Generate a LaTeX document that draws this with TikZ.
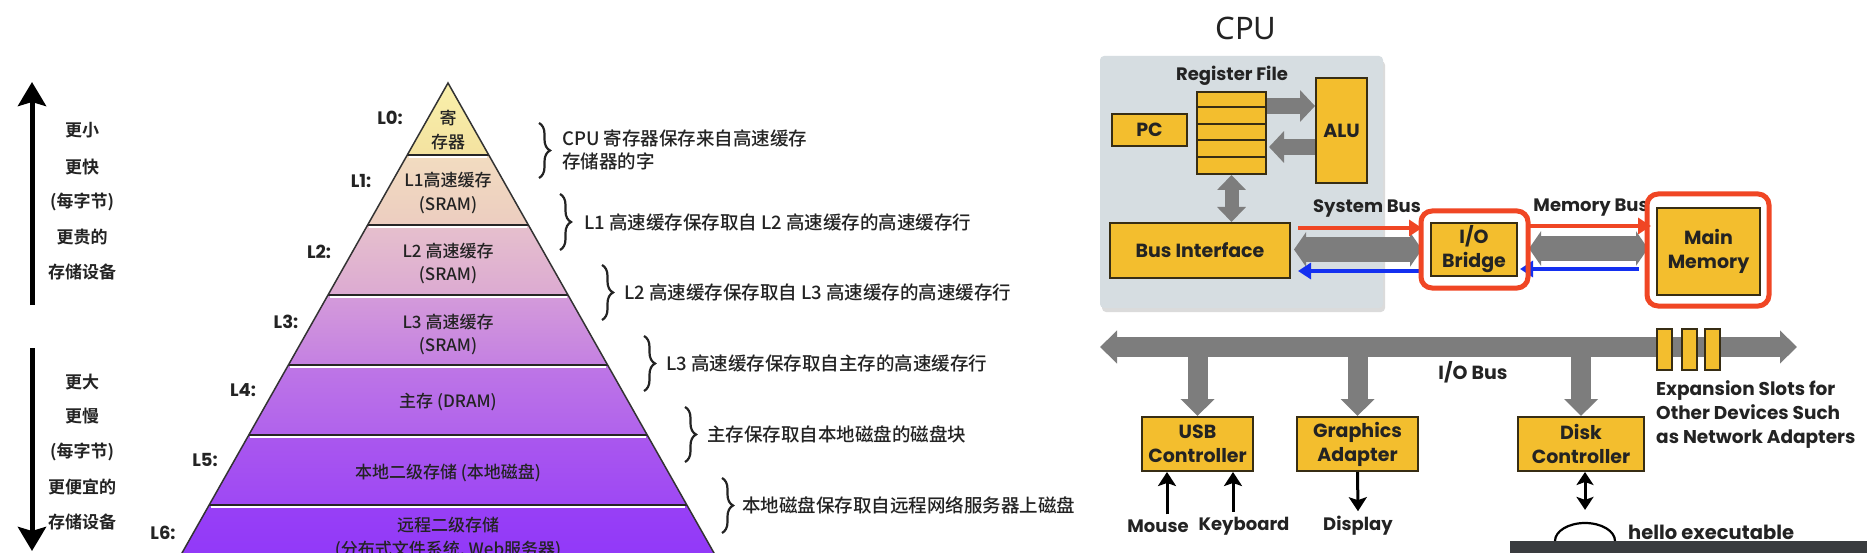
\documentclass[tikz,border=0pt]{standalone}
\usepackage{fontspec}
\usetikzlibrary{arrows.meta,decorations.pathreplacing,calc,shapes.geometric}
\newfontfamily\cjk{Noto Sans CJK SC Medium}
\newfontfamily\cjkb{Noto Sans CJK SC Bold}
\newfontfamily\gothic{Poppins}
\newfontfamily\notosans{Noto Sans}
\definecolor{boxy}{RGB}{243,190,46}
\definecolor{boxb}{RGB}{55,45,20}
\definecolor{busg}{RGB}{125,125,125}
\definecolor{hired}{RGB}{240,70,36}
\definecolor{hiblue}{RGB}{20,48,240}
\definecolor{cpubg}{RGB}{214,221,225}
\definecolor{txt}{RGB}{35,35,35}
\definecolor{barc}{RGB}{58,60,63}
\definecolor{pa}{RGB}{250,240,170}\definecolor{pb}{RGB}{243,226,160}
\definecolor{pc}{RGB}{242,220,192}\definecolor{pd}{RGB}{236,205,192}
\definecolor{pe}{RGB}{230,192,205}\definecolor{pf}{RGB}{220,170,210}
\definecolor{pg}{RGB}{212,155,218}\definecolor{ph}{RGB}{196,128,226}
\definecolor{pi}{RGB}{190,118,230}\definecolor{pj}{RGB}{176,98,236}
\definecolor{pk}{RGB}{170,88,238}\definecolor{pl}{RGB}{158,72,244}
\definecolor{pm}{RGB}{152,64,246}\definecolor{pn}{RGB}{140,50,250}
\tikzset{
  ybox/.style={draw=boxb,line width=2pt,fill=boxy,inner sep=0pt,align=center,text=txt,
    font=\gothic\bfseries\fontsize{19}{24}\selectfont},
  lbl/.style={text=txt,inner sep=2pt,font=\gothic\bfseries\fontsize{18}{24}\selectfont},
  bandtxt/.style={text=txt,align=center,inner sep=0pt,font=\cjk\fontsize{17}{23.5}\selectfont},
  lvl/.style={text=txt,inner sep=0pt,font=\gothic\bfseries\fontsize{18}{22}\selectfont},
  sidetxt/.style={text=txt,inner sep=0pt,font=\cjkb\fontsize{17}{20}\selectfont},
  bracetxt/.style={text=txt,anchor=west,inner sep=0pt,align=left,font=\cjk\fontsize{18.5}{23.5}\selectfont},
  bracedraw/.style={draw=txt,line width=2.2pt,decorate,decoration={brace,amplitude=11pt}},
  bandline/.style={draw=black!85,line width=1.6pt},
  bandhl/.style={draw=white,line width=1.2pt},
  garrow/.style={draw=busg,line width=#1},
  redarr/.style={draw=hired,line width=4pt,-{Triangle[length=13pt 0 0,width=16pt 0 0]}},
  bluearr/.style={draw=hiblue,line width=4pt,-{Triangle[length=13pt 0 0,width=16pt 0 0]}},
  blkarr/.style={draw=black,line width=3pt,-{Stealth[length=14pt 0 0,width=18pt 0 0,inset=3pt 0 0]}},
  hibox/.style={draw=hired,line width=5pt,rounded corners=11pt},
}
\begin{document}
\begin{tikzpicture}[x=1pt,y=-1pt]
\useasboundingbox (0,0) rectangle (1867,553);
\clip (0,0) rectangle (1867,553);
\fill[white] (0,0) rectangle (1867,553);

% ---------- left arrows and texts ----------
\coordinate (upS) at (32,305); \coordinate (upE) at (32,82);
\coordinate (dnS) at (32,348); \coordinate (dnE) at (32,551);
\draw[line width=5pt,-{Stealth[length=24pt 0 0,width=28pt 0 0,inset=4pt 0 0]}] (upS) -- (upE);
\draw[line width=5pt,-{Stealth[length=24pt 0 0,width=28pt 0 0,inset=4pt 0 0]}] (dnS) -- (dnE);
\node[sidetxt] (s1) at (82,130) {更小};
\node[sidetxt] (s2) at (82,167) {更快};
\node[sidetxt] (s3) at (82,202) {(每字节)};
\node[sidetxt] (s4) at (82,237) {更贵的};
\node[sidetxt] (s5) at (82,272) {存储设备};
\node[sidetxt] (s6) at (82,382) {更大};
\node[sidetxt] (s7) at (82,416) {更慢};
\node[sidetxt] (s8) at (82,452) {(每字节)};
\node[sidetxt] (s9) at (82,487) {更便宜的};
\node[sidetxt] (s10) at (82,522) {存储设备};

% ---------- pyramid ----------
\shade[top color=pa,bottom color=pb] (448,83) -- (488.8,155) -- (407.2,155) -- cycle;
\shade[top color=pc,bottom color=pd] (407.2,155) -- (488.8,155) -- (528.4,225) -- (367.6,225) -- cycle;
\shade[top color=pe,bottom color=pf] (367.6,225) -- (528.4,225) -- (568,295) -- (328,295) -- cycle;
\shade[top color=pg,bottom color=ph] (328,295) -- (568,295) -- (607.6,365) -- (288.4,365) -- cycle;
\shade[top color=pi,bottom color=pj] (288.4,365) -- (607.6,365) -- (647.2,435) -- (248.8,435) -- cycle;
\shade[top color=pk,bottom color=pl] (248.8,435) -- (647.2,435) -- (686.9,505) -- (209.1,505) -- cycle;
\shade[top color=pm,bottom color=pn] (209.1,505) -- (686.9,505) -- (740.6,600) -- (155.4,600) -- cycle;
\foreach \l/\r/\y in {407.2/488.8/155,367.6/528.4/225,328/568/295,288.4/607.6/365,248.8/647.2/435,209.1/686.9/505}{
  \draw[bandhl] (\l+1.5,\y+2) -- (\r-1.5,\y+2);
  \draw[bandline] (\l,\y) -- (\r,\y);
}
\draw[draw=black!80,line width=1.5pt,line join=miter] (155.4,600) -- (448,83) -- (740.6,600);

\node[bandtxt] (t0) at (448,130) {寄\\存器};
\node[bandtxt] (t1) at (448,193) {L1高速缓存\\(SRAM)};
\node[bandtxt] (t2) at (448,263.5) {L2 高速缓存\\(SRAM)};
\node[bandtxt] (t3) at (448,334.5) {L3 高速缓存\\(SRAM)};
\node[bandtxt] (t4) at (448,402) {主存 (DRAM)};
\node[bandtxt] (t5) at (448,473) {本地二级存储 (本地磁盘)};
\node[bandtxt] (t6) at (448,538) {远程二级存储\\(分布式文件系统, Web服务器)};

\node[lvl] (L0) at (390,118) {L0:};
\node[lvl] (L1) at (361,181) {L1:};
\node[lvl] (L2) at (319,252) {L2:};
\node[lvl] (L3) at (286,322) {L3:};
\node[lvl] (L4) at (243,390) {L4:};
\node[lvl] (L5) at (205,460) {L5:};
\node[lvl] (L6) at (163,533) {L6:};

% ---------- braces ----------
\draw[bracedraw] (539,123) -- (539,178);
\draw[bracedraw] (560,194) -- (560,250);
\draw[bracedraw] (602,265) -- (602,320);
\draw[bracedraw] (644,336) -- (644,391);
\draw[bracedraw] (685,407) -- (685,462);
\draw[bracedraw] (722,478) -- (722,533);
\node[bracetxt] (b1) at (562,150) {CPU 寄存器保存来自高速缓存\\存储器的字};
\node[bracetxt] (b2) at (584,222) {L1 高速缓存保存取自 L2 高速缓存的高速缓存行};
\node[bracetxt] (b3) at (624,292) {L2 高速缓存保存取自 L3 高速缓存的高速缓存行};
\node[bracetxt] (b4) at (666,363) {L3 高速缓存保存取自主存的高速缓存行};
\node[bracetxt] (b5) at (707,434) {主存保存取自本地磁盘的磁盘块};
\node[bracetxt] (b6) at (742,505) {本地磁盘保存取自远程网络服务器上磁盘};

% ---------- CPU diagram ----------
\fill[black!14,rounded corners=4pt] (1102,61) rectangle (1385,312);
\fill[cpubg,rounded corners=4pt] (1100,56) rectangle (1383,308);
\node[text=txt,inner sep=0pt,font=\notosans\fontsize{31}{34}\selectfont] (cpu) at (1246,28) {CPU};
\node[lbl] (rflbl) at (1232,76) {Register File};
\node[ybox,minimum width=75pt,minimum height=32pt] (pc) at (1149.5,130) {PC};
\node[ybox,minimum width=51pt,minimum height=105pt] (alu) at (1341.5,130.5) {ALU};
\node[ybox,minimum width=69pt,minimum height=82pt] (rf) at (1231.5,133) {};
\foreach \k in {1,2,3,4}{\draw[boxb,line width=2pt] ($(rf.north west)+(0,16.4*\k)$) -- ($(rf.north east)+(0,16.4*\k)$);}
\node[ybox,minimum width=180pt,minimum height=55pt] (bi) at (1200,250.5) {Bus Interface};
\node[ybox,minimum width=86pt,minimum height=53pt] (iob) at (1474,249.5) {I/O\\Bridge};
\node[ybox,minimum width=103pt,minimum height=87pt] (mm) at (1708.5,251.5) {Main\\Memory};
\node[lbl] (sysbus) at (1367,208) {System Bus};
\node[lbl] (membus) at (1591,208) {Memory Bus};

% arrows inside CPU
\draw[garrow=16pt,-{Triangle[length=15pt 0 0,width=31pt 0 0]}] ($(rf.north east)+(0,15)$) -- ($(alu.north west)+(0,29)$);
\draw[garrow=16pt,-{Triangle[length=15pt 0 0,width=31pt 0 0]}] ($(alu.north west)+(0,70)$) -- ($(rf.north east)+(2,56)$);
\draw[garrow=14pt,{Triangle[length=15pt 0 0,width=28pt 0 0]}-{Triangle[length=15pt 0 0,width=28pt 0 0]}] (rf.south) -- (rf.south |- bi.north);

% system bus / memory bus
\draw[garrow=24pt,{Triangle[length=12pt 0 0,width=34pt 0 0]}-{Triangle[length=12pt 0 0,width=34pt 0 0]}] ($(bi.east)+(3,-1)$) -- ($(iob.west |- bi.east)+(-8,-1)$);
\draw[garrow=24pt,{Triangle[length=12pt 0 0,width=34pt 0 0]}-{Triangle[length=12pt 0 0,width=34pt 0 0]}] ($(iob.east)+(11,-1)$) -- ($(mm.west |- iob.east)+(-8,-1)$);
\draw[redarr] ($(bi.north east)+(7,6)$) -- ($(iob.north west)+(-8,6)$);
\draw[bluearr] ($(iob.south west)+(-8,-6)$) -- ($(bi.south east)+(7,-8)$);
\draw[redarr] ($(iob.north east)+(10,4)$) -- ($(mm.west |- iob.north east)+(-5,4)$);
\draw[bluearr] ($(mm.west |- iob.south east)+(-17,-8)$) -- ($(iob.south east)+(2,-8)$);
\draw[hibox] ($(iob.north west)+(-9,-11)$) rectangle ($(iob.south east)+(10,11)$);
\draw[hibox] ($(mm.north west)+(-9,-13)$) rectangle ($(mm.south east)+(8,10)$);

% I/O bus
\node[ybox,minimum width=111pt,minimum height=54pt] (usb) at (1197.5,444) {USB\\Controller};
\node[ybox,minimum width=121pt,minimum height=54pt] (gfx) at (1357.5,444) {Graphics\\Adapter};
\node[ybox,minimum width=126pt,minimum height=54pt] (disk) at (1581,444) {Disk\\Controller};
\coordinate (iobL) at (1100,347);
\coordinate (iobR) at (1797,347);
\draw[garrow=20pt,{Triangle[length=17pt 0 0,width=32pt 0 0]}-{Triangle[length=17pt 0 0,width=32pt 0 0]}] (iobL) -- (iobR);
\draw[garrow=20pt,-{Triangle[length=17pt 0 0,width=33pt 0 0]}] (usb.north |- iobL) -- (usb.north);
\draw[garrow=20pt,-{Triangle[length=17pt 0 0,width=33pt 0 0]}] (gfx.north |- iobL) -- (gfx.north);
\draw[garrow=20pt,-{Triangle[length=17pt 0 0,width=33pt 0 0]}] (disk.north |- iobL) -- (disk.north);
\node[ybox,minimum width=15pt,minimum height=41pt] (x1) at (1664.5,349.5) {};
\node[ybox,minimum width=15pt,minimum height=41pt] (x2) at (1689.5,349.5) {};
\node[ybox,minimum width=15pt,minimum height=41pt] (x3) at (1712.5,349.5) {};
\node[lbl,font=\gothic\bfseries\fontsize{19}{24}\selectfont] (iobus) at (1473,372) {I/O Bus};
\node[lbl,anchor=north west,align=left,inner sep=0pt,font=\gothic\bfseries\fontsize{18.5}{24}\selectfont] (exp) at (1656,380) {Expansion Slots for\\Other Devices Such\\as Network Adapters};

% devices
\node[lbl] (mouse) at (1158,526) {Mouse};
\node[lbl] (kbd) at (1244,526) {Keyboard};
\node[lbl] (disp) at (1358,526) {Display};
\draw[blkarr] ([xshift=9pt,yshift=3pt]mouse.north) -- ([xshift=9pt]mouse.north |- usb.south);
\draw[blkarr] ([xshift=-11pt,yshift=3pt]kbd.north) -- ([xshift=-11pt]kbd.north |- usb.south);
\draw[blkarr] (gfx.south) -- ([yshift=3pt]disp.north);
\node[draw=black,line width=2.2pt,ellipse,minimum width=60pt,minimum height=36pt,inner sep=0pt] (dsk) at (1585,541) {};
\draw[draw=black,line width=3pt,{Stealth[length=13pt 0 0,width=17pt 0 0,inset=3pt 0 0]}-{Stealth[length=13pt 0 0,width=17pt 0 0,inset=3pt 0 0]}] (disk.south -| dsk.north) -- ([yshift=12pt]dsk.north);
\node[lbl,anchor=base west,inner sep=0pt,font=\gothic\bfseries\fontsize{19.5}{24}\selectfont] (hello) at (1628,539) {hello executable};
\fill[barc] (1510,541) rectangle (1867,560);
\end{tikzpicture}
\end{document}
